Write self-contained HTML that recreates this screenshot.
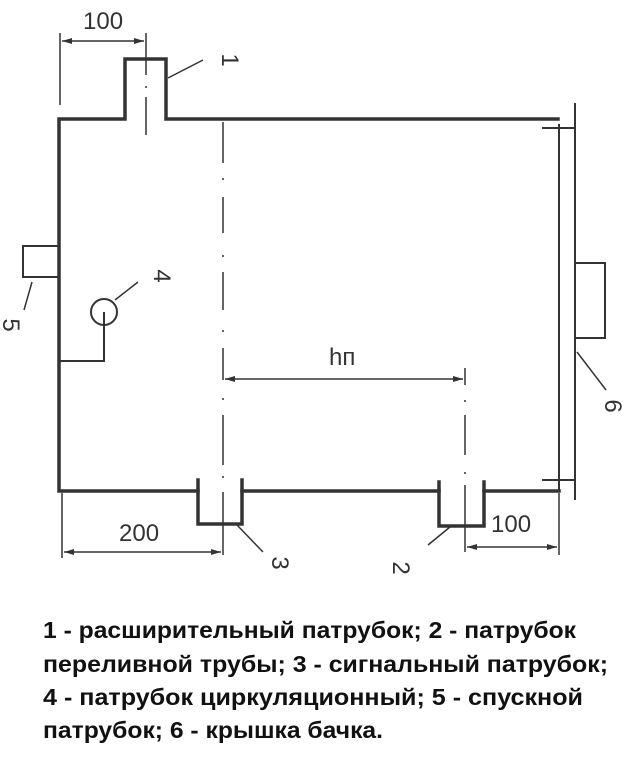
<!DOCTYPE html>
<html><head><meta charset="utf-8"><style>html,body{margin:0;padding:0;background:#fff}svg{display:block}</style></head><body>
<svg width="636" height="768" viewBox="0 0 636 768" xmlns="http://www.w3.org/2000/svg">
<defs>
<marker id="a" viewBox="0 0 10 6" refX="10" refY="3" markerWidth="10" markerHeight="6" orient="auto-start-reverse" markerUnits="userSpaceOnUse"><path d="M0,0 L10,3 L0,6 Z" fill="#333"/></marker>
</defs>
<g stroke="#333" fill="none" stroke-width="3.5" stroke-linecap="square">
<path d="M125,119 L59,119 L59,491 L198,491 M125,119 L125,59 L166,59 L166,119 L558,119 M242,491 L439,491 M484,491 L559,491"/>
<path d="M198,480 L198,524 L242,524 L242,480"/>
<path d="M439,482 L439,526 L484,526 L484,482"/>
</g>
<g stroke="#333" fill="none" stroke-width="2">
<path d="M559,124 L559,490"/>
<path d="M575,103 L575,500"/>
<path d="M542,128 L574,128 M542,480 L574,480"/>
<path d="M576,263 L605,263 L605,338 L576,338"/>
<path d="M23,246 L59,246 L59,277 L23,277 Z"/>
<circle cx="104" cy="312" r="13"/>
<path d="M104,312 L104,361 L59,361"/>
</g>
<g stroke="#333" fill="none" stroke-width="1.5">
<path d="M146,52 L146,75 M146,86 L146,88 M146,97 L146,135" />
<path d="M223,122 L223,163 M223,178 L223,180 M223,197 L223,233 M223,255 L223,257 M223,272 L223,310 M223,330 L223,332 M223,348 L223,380 M223,398 L223,400 M223,415 L223,465 M223,476 L223,478 M223,492 L223,555"/>
<path d="M465,368 L465,385 M465,400 L465,402 M465,415 L465,455 M465,472 L465,474 M465,485 L465,552"/>
<path d="M60,33 L60,105 M146,33 L146,52"/>
<path d="M62,41 L144,41" marker-start="url(#a)" marker-end="url(#a)"/>
<path d="M225,379 L463,379" marker-start="url(#a)" marker-end="url(#a)"/>
<path d="M62,493 L62,558"/>
<path d="M64,552 L221,552" marker-start="url(#a)" marker-end="url(#a)"/>
<path d="M559,493 L559,555"/>
<path d="M467,547 L557,547" marker-start="url(#a)" marker-end="url(#a)"/>
<path d="M168,78 L203,60 M32,282 L24,310 M115,300 L138,282 M237,525 L263,552 M450,527 L428,545 M577,352 L606,390"/>
</g>
<g font-family="Liberation Sans, sans-serif" font-size="24" fill="#333">
<text x="83" y="29">100</text>
<text x="119" y="541">200</text>
<text x="491" y="532">100</text>
<text x="329" y="365">hп</text>
<text transform="translate(222,60) rotate(90)" text-anchor="middle">1</text>
<text transform="translate(393,568) rotate(90)" text-anchor="middle">2</text>
<text transform="translate(272,563) rotate(90)" text-anchor="middle">3</text>
<text transform="translate(154,276) rotate(90)" text-anchor="middle">4</text>
<text transform="translate(3,325) rotate(90)" text-anchor="middle">5</text>
<text transform="translate(605,406) rotate(90)" text-anchor="middle">6</text>
</g>
<g font-family="Liberation Sans, sans-serif" font-weight="bold" font-size="23" fill="#111">
<text x="43" y="638" textLength="533" lengthAdjust="spacingAndGlyphs">1 - расширительный патрубок; 2 - патрубок</text>
<text x="43" y="672" textLength="565" lengthAdjust="spacingAndGlyphs">переливной трубы; 3 - сигнальный патрубок;</text>
<text x="43" y="705" textLength="540" lengthAdjust="spacingAndGlyphs">4 - патрубок циркуляционный; 5 - спускной</text>
<text x="43" y="738" textLength="340" lengthAdjust="spacingAndGlyphs">патрубок; 6 - крышка бачка.</text>
</g>
</svg>
</body></html>
